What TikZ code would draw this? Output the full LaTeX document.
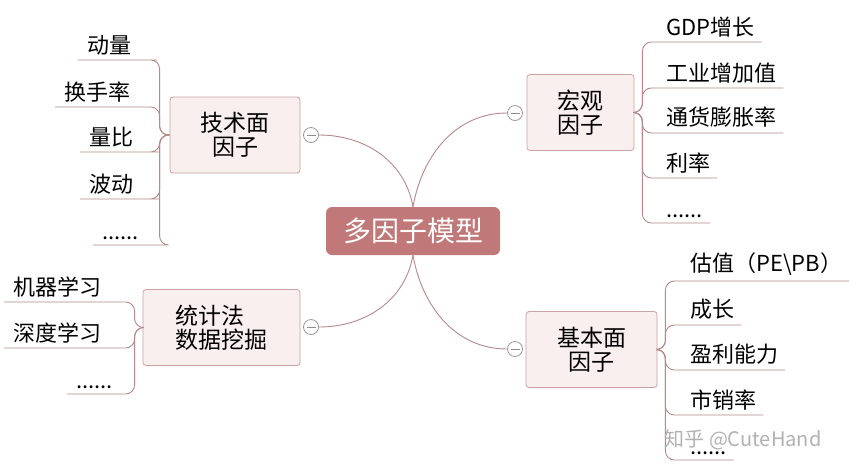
\documentclass[tikz,border=0pt]{standalone}
\usepackage{fontspec}
\setmainfont{Noto Sans CJK SC}
\newcommand\mydots{......}
\begin{document}
\begin{tikzpicture}[x=1pt,y=-1pt,
  line/.style={draw=lc, line width=0.9pt},
  br/.style={draw=bd, fill=bf, rounded corners=3pt, line width=0.8pt, font=\fontsize{23}{28}\selectfont, minimum height=76pt},
  leaf/.style={font=\fontsize{22}{24}\selectfont, inner xsep=9pt, inner ysep=5pt},
  rleaf/.style={font=\fontsize{22}{24}\selectfont, inner xsep=0pt, inner ysep=5pt, anchor=south west},
  col/.style={circle, draw=gray!80, fill=white, minimum size=15pt, inner sep=0pt, line width=0.8pt,
    path picture={\draw[gray!90,line width=0.8pt] ([xshift=-4.5pt]path picture bounding box.center) -- ([xshift=4.5pt]path picture bounding box.center);}}]
\definecolor{lc}{HTML}{B48A8A}
\definecolor{bd}{HTML}{C9A2A2}
\definecolor{bf}{HTML}{F9EFEF}
\definecolor{cf}{HTML}{C07878}
\useasboundingbox[fill=white] (0,0) rectangle (867,475);
% center
\node[fill=cf, rounded corners=6pt, text=white, minimum width=174pt, minimum height=48pt, font=\fontsize{28}{30}\selectfont] (cen) at (413,231) {多因子模型};
% branches
\node[br, minimum width=130pt, align=center] (tech) at (235,135) {技术面\\[-4pt]因子};
\node[br, minimum width=107pt, align=center] (mac) at (580.5,112.5) {宏观\\[-4pt]因子};
\node[br, minimum width=157pt, align=left] (stat) at (221.5,327.5) {统计法\\[-4pt]数据挖掘};
\node[br, minimum width=131pt, align=center] (fund) at (591.5,349.5) {基本面\\[-4pt]因子};
\node[col] (c1) at (311,135) {};
\node[col] (c2) at (515,113) {};
\node[col] (c3) at (311,327) {};
\node[col] (c4) at (515,349) {};
\draw[line] (cen.north) to[out=100,in=0] (c1.east);
\draw[line] (cen.north) to[out=80,in=180] (c2.west);
\draw[line] (cen.south) to[out=-100,in=0] (c3.east);
\draw[line] (cen.south) to[out=-80,in=180] (c4.west);
% tech leaves (left)
\foreach \n/\t/\x/\y in {t1/动量/78/60, t2/换手率/55/107, t3/量比/80/152, t4/波动/80/199, t5/\mydots/93/245}{
  \node[leaf, anchor=south west] (\n) at (\x,\y) {\t};
  \draw[line, rounded corners=9pt] (tech.west) -- ++(-10,0) |- (\x+70,\y) -- (\n.south west);
}
% stat leaves
\foreach \n/\t/\x/\y in {s1/机器学习/4/302, s2/深度学习/4/348, s3/\mydots/67/394}{
  \node[leaf, anchor=south west] (\n) at (\x,\y) {\t};
  \draw[line, rounded corners=9pt] (stat.west) -- ++(-8,0) |- (\x+50,\y) -- (\n.south west);
}
% macro leaves (right)
\foreach \n/\t/\y in {m1/GDP增长/42, m2/工业增加值/88, m3/通货膨胀率/133, m4/利率/178, m5/\mydots/223}{
  \node[rleaf] (\n) at (666,\y) {\t};
  \draw[line, rounded corners=9pt] (mac.east) -- ++(8,0) |- (\n.south west) -- ([xshift=7pt]\n.south east);
}
% fund leaves
\foreach \n/\t/\y in {f1/估值（PE\textbackslash PB）/281, f2/成长/325, f3/盈利能力/370, f4/市销率/415, f5/\mydots/460}{
  \node[rleaf] (\n) at (690,\y) {\t};
  \draw[line, rounded corners=9pt] (fund.east) -- ++(8,0) |- (\n.south west) -- ([xshift=7pt]\n.south east);
}
\node[text=gray!60, font=\fontsize{20}{22}\selectfont] (wm) at (743,440) {知乎 @CuteHand};
\end{tikzpicture}
\end{document}
